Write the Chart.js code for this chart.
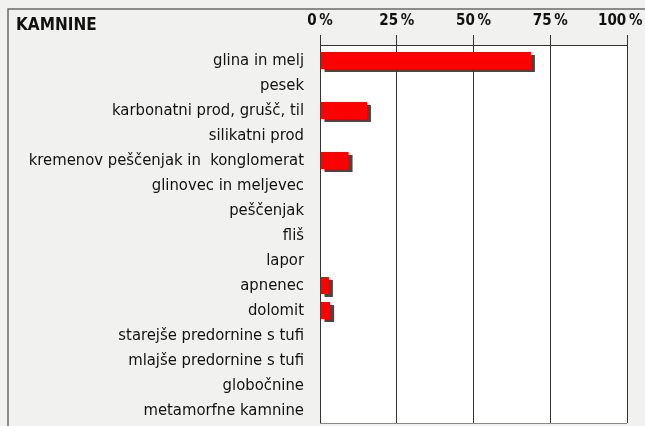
<!DOCTYPE html>
<html>
<head>
<meta charset="utf-8">
<script src="https://cdn.jsdelivr.net/npm/chart.js@4"></script>
<style>
html,body{margin:0;padding:0;background:#f1f1ef;}
#wrap{width:645px;height:426px;position:relative;}
</style>
</head>
<body>
<div id="wrap"><canvas id="c" width="645" height="426"></canvas></div>
<script>
const title = 'KAMNINE';
const categories = [
  'glina in melj',
  'pesek',
  'karbonatni prod, grušč, til',
  'silikatni prod',
  'kremenov peščenjak in  konglomerat',
  'glinovec in meljevec',
  'peščenjak',
  'fliš',
  'lapor',
  'apnenec',
  'dolomit',
  'starejše predornine s tufi',
  'mlajše predornine s tufi',
  'globočnine',
  'metamorfne kamnine'
];
const shares = [68.7, 0, 15.3, 0, 9.3, 0, 0, 0, 0, 2.9, 3.3, 0, 0, 0, 0];
const tickValues = [0, 25, 50, 75, 100];

const FONT = '"Liberation Sans Narrow", "DejaVu Sans Condensed", "Liberation Sans", sans-serif';
const AXIS_TOP = 45.5;

function zeroPad(scale) {
  scale.paddingLeft = 0; scale.paddingRight = 0;
  scale.paddingTop = 0; scale.paddingBottom = 0;
}

const framePlugin = {
  id: 'frame',
  beforeDraw(chart) {
    const ctx = chart.ctx;
    const a = chart.chartArea;
    ctx.save();
    ctx.fillStyle = '#f1f1ef';
    ctx.fillRect(0, 0, chart.width, chart.height);
    ctx.strokeStyle = '#6a6a6a';
    ctx.lineWidth = 1.5;
    ctx.beginPath();
    ctx.moveTo(8, 426); ctx.lineTo(8, 9); ctx.lineTo(645, 9);
    ctx.stroke();
    ctx.fillStyle = '#ffffff';
    ctx.fillRect(a.left, AXIS_TOP, a.right - a.left, a.bottom - AXIS_TOP);
    ctx.fillStyle = '#111111';
    ctx.font = 'bold 17px ' + FONT;
    ctx.textBaseline = 'alphabetic';
    ctx.textAlign = 'left';
    ctx.fillText(title, 16, 30);
    ctx.restore();
  },
  afterDraw(chart) {
    const ctx = chart.ctx;
    const a = chart.chartArea;
    ctx.save();
    ctx.strokeStyle = '#333333';
    ctx.lineWidth = 1.2;
    ctx.beginPath();
    ctx.moveTo(a.left, AXIS_TOP); ctx.lineTo(a.right, AXIS_TOP);
    ctx.stroke();
    ctx.strokeStyle = '#8a8a8a';
    ctx.beginPath();
    ctx.moveTo(a.left, a.bottom + 0.5); ctx.lineTo(a.right, a.bottom + 0.5);
    ctx.stroke();
    ctx.restore();
  }
};

const shadowPlugin = {
  id: 'barShadow',
  beforeDatasetsDraw(chart) {
    const ctx = chart.ctx;
    ctx.save();
    ctx.shadowColor = 'rgba(60,60,60,0.95)';
    ctx.shadowOffsetX = 4;
    ctx.shadowOffsetY = 3;
    ctx.shadowBlur = 0;
  },
  afterDatasetsDraw(chart) {
    chart.ctx.restore();
  }
};

new Chart(document.getElementById('c'), {
  type: 'bar',
  data: {
    labels: categories,
    datasets: [{
      data: shares,
      backgroundColor: '#ff0000',
      borderWidth: 0,
      barPercentage: 0.68,
      categoryPercentage: 1
    }]
  },
  plugins: [framePlugin, shadowPlugin],
  options: {
    indexAxis: 'y',
    responsive: false,
    animation: false,
    devicePixelRatio: 1,
    layout: { padding: { top: 0, left: 0, right: 18, bottom: 3 } },
    plugins: { legend: { display: false }, tooltip: { enabled: false } },
    scales: {
      x: {
        position: 'top',
        min: 0, max: 100,
        afterBuildTicks(scale) { scale.ticks = tickValues.map(v => ({ value: v })); },
        afterFit(scale) { scale.height = 48; zeroPad(scale); },
        border: { display: false },
        grid: { color: '#333333', lineWidth: 1, tickLength: 13, drawTicks: true, tickColor: '#333333' },
        ticks: {
          padding: 5,
          color: '#111111',
          font: { family: FONT, size: 15, weight: 'bold' },
          callback: v => v === 100 ? v + '\u2009%\u2003' : v + '\u2009%'
        }
      },
      y: {
        afterFit(scale) { scale.width = 320; zeroPad(scale); },
        border: { display: false },
        grid: { display: false, drawTicks: false },
        ticks: {
          padding: 16,
          color: '#111111',
          font: { family: FONT, size: 16.5 }
        }
      }
    }
  }
});
</script>
</body>
</html>
